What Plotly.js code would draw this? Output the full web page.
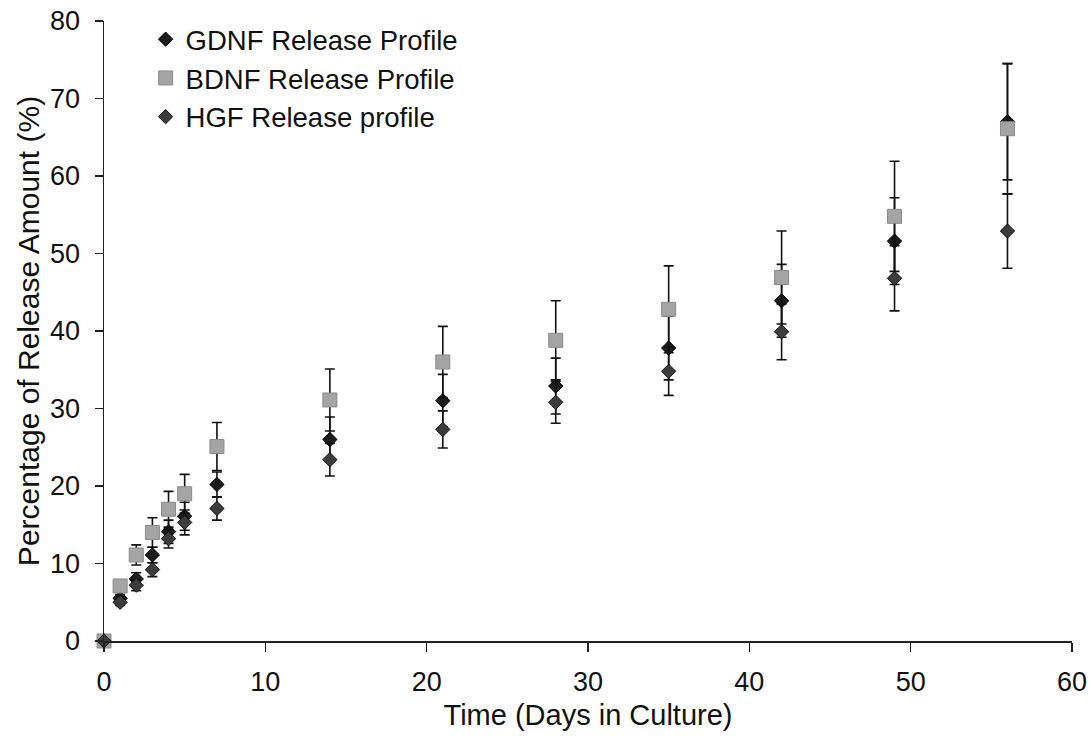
<!DOCTYPE html>
<html>
<head>
<meta charset="utf-8">
<script src="https://cdn.plot.ly/plotly-3.0.1.min.js"></script>
<style>html,body{margin:0;padding:0;background:#fff;}#chart{width:1092px;height:751px;}</style>
</head>
<body>
<div id="chart"></div>
<script>
const days = [0, 1, 2, 3, 4, 5, 7, 14, 21, 28, 35, 42, 49, 56];
const gdnf = [0, 5.5, 8.0, 11.1, 14.1, 16.1, 20.2, 26.0, 31.0, 32.9, 37.8, 43.9, 51.6, 67.0];
const gdnfErr = [0, 0.5, 0.8, 1.0, 1.5, 1.8, 1.6, 2.9, 3.4, 3.6, 4.1, 4.7, 5.6, 7.5];
const bdnf = [0, 7.1, 11.1, 14.0, 17.0, 19.0, 25.1, 31.1, 36.0, 38.8, 42.8, 46.9, 54.8, 66.1];
const bdnfErr = [0, 0.6, 1.3, 1.9, 2.3, 2.5, 3.1, 4.0, 4.6, 5.1, 5.6, 6.0, 7.1, 8.4];
const hgf = [0, 5.0, 7.2, 9.2, 13.2, 15.3, 17.1, 23.4, 27.3, 30.8, 34.8, 39.9, 46.8, 52.9];
const hgfErr = [0, 0.4, 0.7, 0.9, 1.2, 1.6, 1.5, 2.1, 2.4, 2.7, 3.1, 3.6, 4.2, 4.8];
const names = ["GDNF Release Profile", "BDNF Release Profile", "HGF Release profile"];

const font = "Liberation Sans, Arial, sans-serif";
function tr(name, y, err, symbol, color, lineColor, size, group) {
  return {
    type: "scatter", mode: "markers", name: name, x: days, y: y,
    legendgroup: group, cliponaxis: false,
    marker: {symbol: symbol, size: size, color: color, line: {color: lineColor, width: 1}},
    error_y: {type: "data", array: err, visible: true, color: "#111", thickness: 1.6, width: 5}
  };
}
const data = [
  tr(names[0], gdnf, gdnfErr, "diamond", "#1c1c1c", "#000", 11, "a"),
  tr(names[1], bdnf, bdnfErr, "square", "#a4a4a4", "#8a8a8a", 14, "b"),
  tr(names[2], hgf, hgfErr, "diamond", "#3c3c3c", "#111", 11, "c")
];
const layout = {
  width: 1092, height: 751,
  margin: {l: 104, r: 20, t: 21, b: 110},
  paper_bgcolor: "#fff", plot_bgcolor: "#fff",
  font: {family: font, size: 27, color: "#111"},
  showlegend: true,
  legend: {x: 0.043, y: 1.01, xanchor: "left", yanchor: "top", bgcolor: "rgba(0,0,0,0)",
           font: {family: font, size: 27.5, color: "#111"}, traceorder: "normal", tracegroupgap: 0},
  xaxis: {range: [0, 60], dtick: 10, showgrid: false, zeroline: false, showline: true,
          linecolor: "#222", linewidth: 1.5, ticks: "outside", ticklen: 9, tickcolor: "#222", tickwidth: 1.5,
          ticklabelstandoff: 7,
          tickfont: {family: font, size: 27, color: "#111"},
          title: {text: "Time (Days in Culture)", font: {family: font, size: 29, color: "#111"}, standoff: 9}},
  yaxis: {range: [0, 80], dtick: 10, showgrid: false, zeroline: false, showline: true,
          linecolor: "#222", linewidth: 1.5, ticks: "outside", ticklen: 8, tickcolor: "#222", tickwidth: 1.5,
          ticklabelstandoff: 9,
          tickfont: {family: font, size: 27, color: "#111"},
          title: {text: "Percentage of Release Amount (%)", font: {family: font, size: 30, color: "#111"}, standoff: 1}}
};
Plotly.newPlot("chart", data, layout, {displayModeBar: false, staticPlot: true});
</script>
</body>
</html>
